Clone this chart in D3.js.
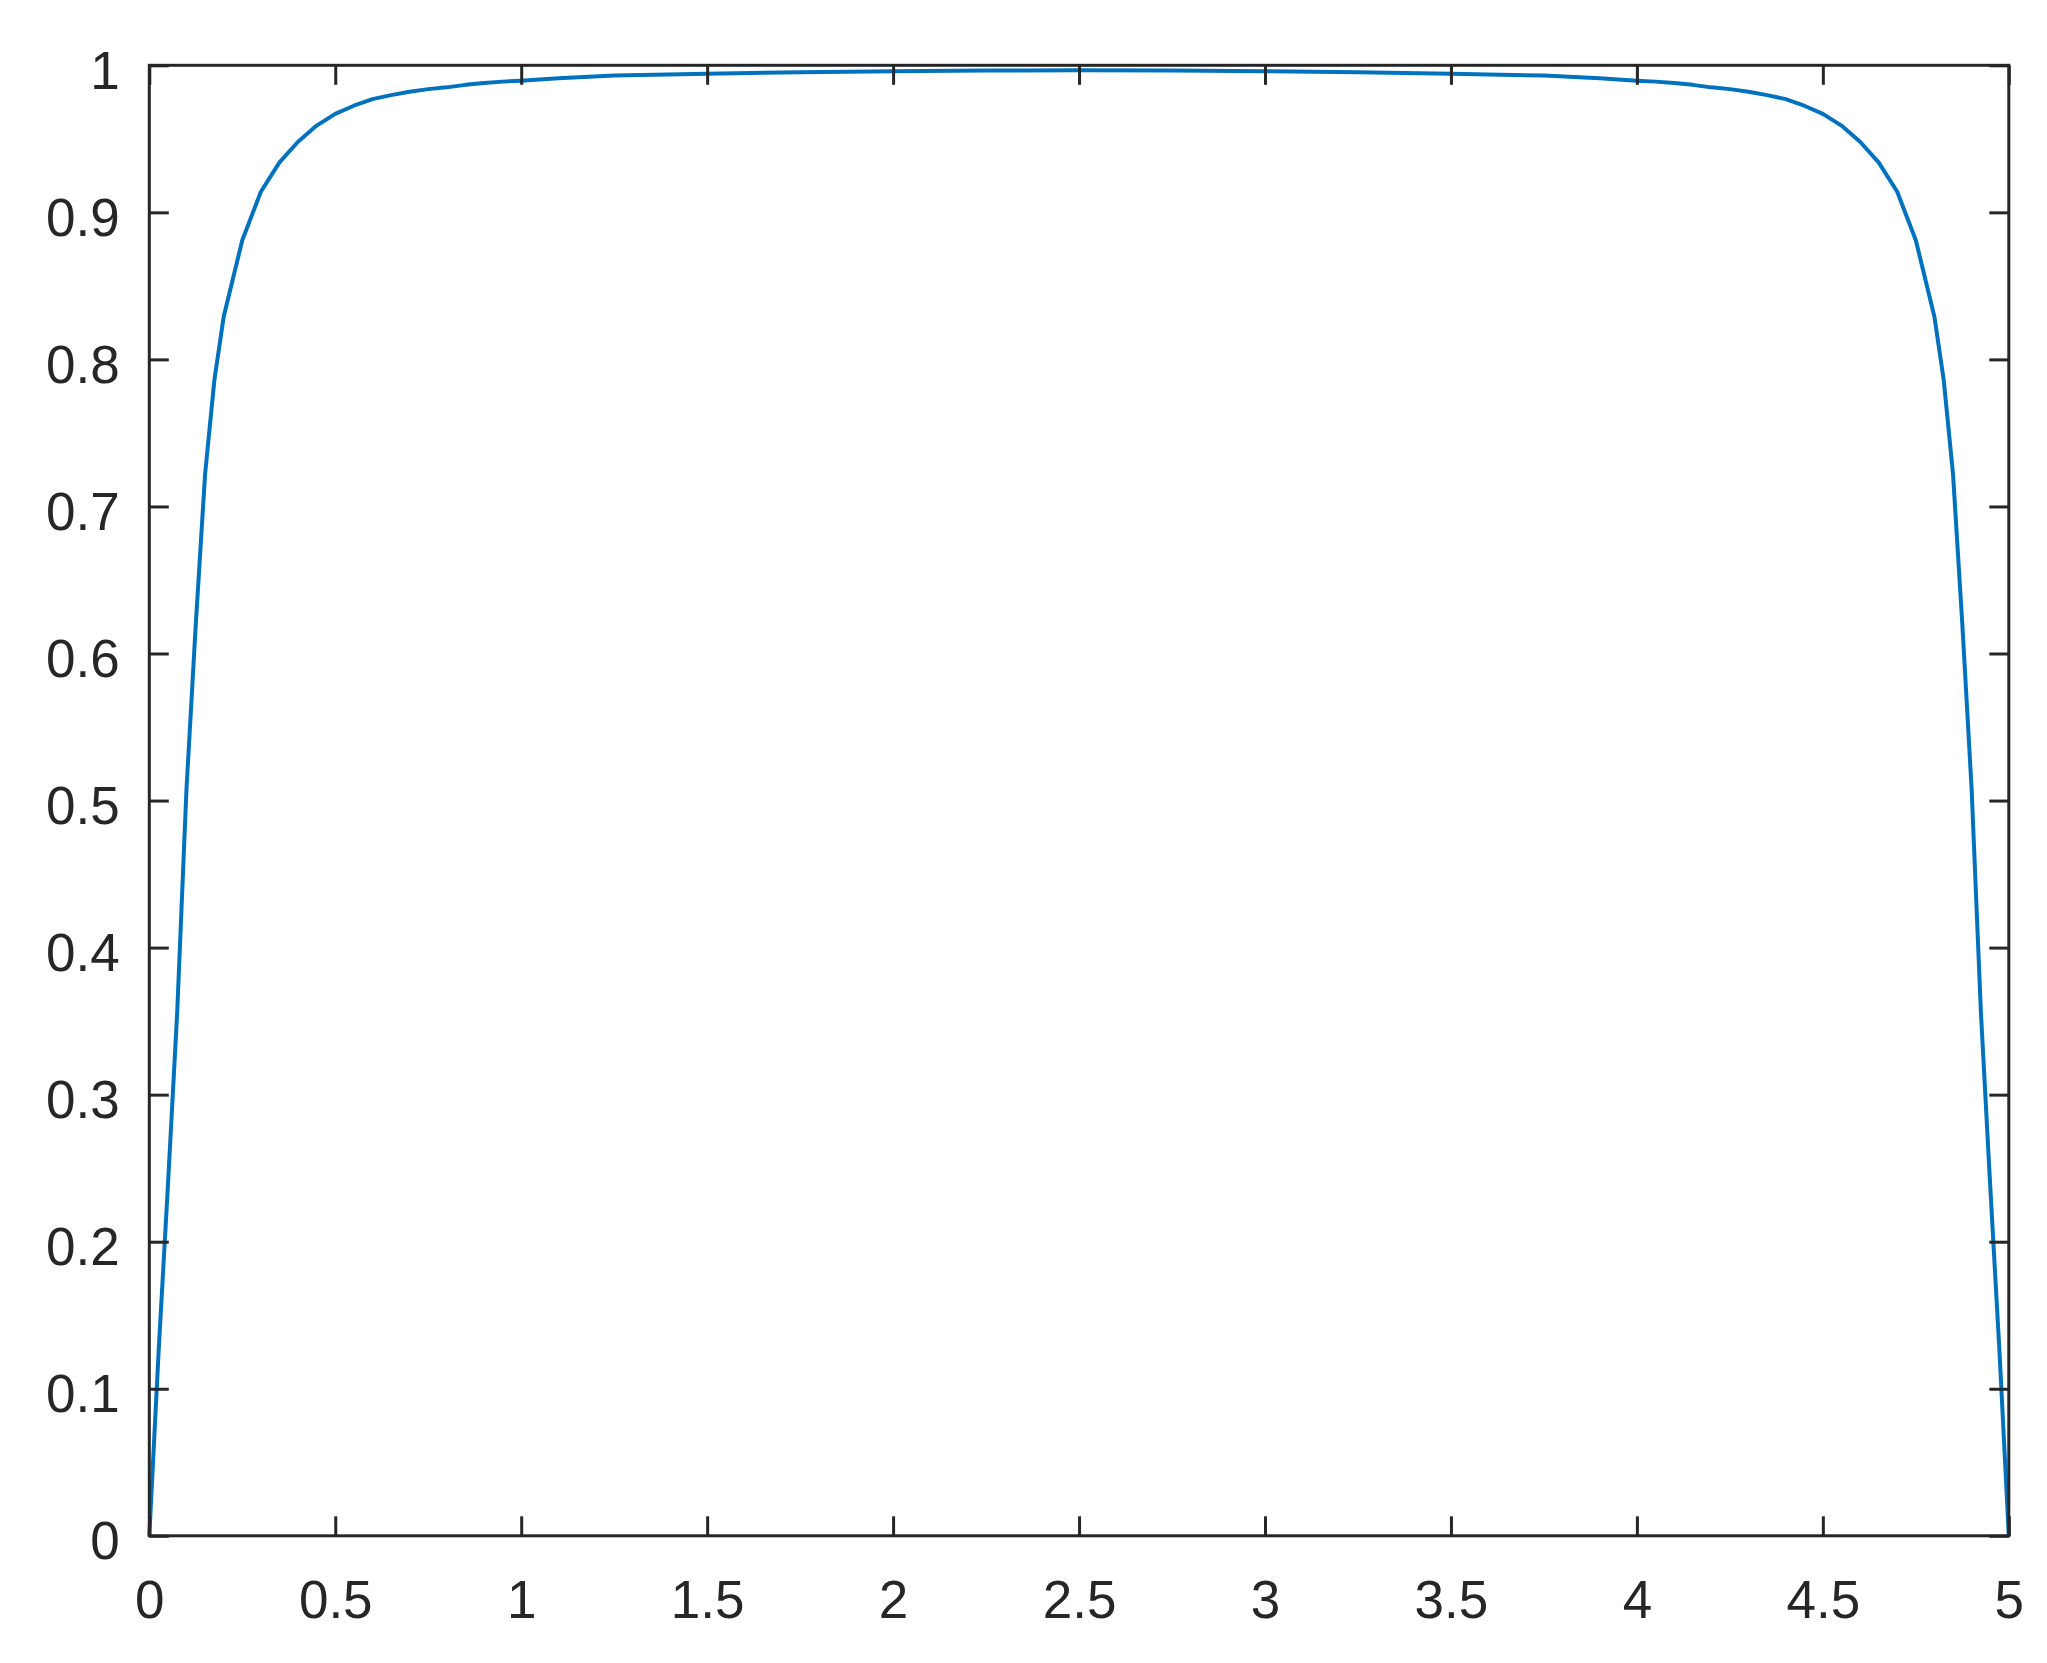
<!DOCTYPE html>
<html>
<head>
<meta charset="utf-8">
<script src="https://cdn.jsdelivr.net/npm/d3@7"></script>
<style>
  html, body { margin: 0; padding: 0; background: #ffffff; }
  svg { display: block; }
</style>
</head>
<body>
<svg id="chart" width="2047" height="1663"></svg>
<script>
// Data
const xValues = [0, 0.025, 0.05, 0.075, 0.1, 0.125, 0.15, 0.175, 0.2, 0.25, 0.3, 0.35, 0.4, 0.45, 0.5,
  0.55, 0.6, 0.65, 0.7, 0.75, 0.8, 0.85, 0.9, 0.95, 1.0, 1.1, 1.25, 1.5, 1.75, 2.0, 2.25, 2.5, 2.75, 3.0, 3.25, 3.5, 3.75, 3.9,
  4.0, 4.05, 4.1, 4.15, 4.2, 4.25, 4.3, 4.35, 4.4, 4.45, 4.5, 4.55, 4.6, 4.65, 4.7, 4.75, 4.8, 4.825, 4.85, 4.875, 4.9, 4.925, 4.95, 4.975, 5];
const yValues = [0, 0.125, 0.238, 0.356, 0.508, 0.62, 0.722, 0.786, 0.829, 0.881, 0.914, 0.934, 0.948, 0.959, 0.967,
  0.9725, 0.977, 0.9797, 0.982, 0.9838, 0.985, 0.9867, 0.988, 0.9889, 0.9895, 0.9912, 0.993, 0.9942, 0.9953, 0.9960, 0.9965, 0.9966, 0.9964, 0.9960, 0.9953, 0.9942, 0.993, 0.9912,
  0.9895, 0.9889, 0.988, 0.9867, 0.985, 0.9838, 0.982, 0.9797, 0.977, 0.9725, 0.967, 0.959, 0.948, 0.934, 0.914, 0.881, 0.829, 0.786, 0.722, 0.62, 0.508, 0.356, 0.238, 0.125, 0];
const xTicks = [0, 0.5, 1, 1.5, 2, 2.5, 3, 3.5, 4, 4.5, 5];
const yTicks = [0, 0.1, 0.2, 0.3, 0.4, 0.5, 0.6, 0.7, 0.8, 0.9, 1];

(function () {
  const points = xValues.map((x, i) => ({ x, y: yValues[i] }));

  const svg = d3.select("#chart");
  const pLeft = 149.3, pRight = 2008.8, pTop = 65.3, pBottom = 1535.8;
  const axisColor = "#262626";
  const fontSize = 53;
  const tickLen = 19.5;

  const x = d3.scaleLinear().domain([0, 5]).range([pLeft, pRight]);
  const y = d3.scaleLinear().domain([0, 1]).range([pBottom, pTop]);
  const fmt = d3.format("~g");

  // Curve
  const line = d3.line().x(d => x(d.x)).y(d => y(d.y)).curve(d3.curveLinear);
  svg.append("path")
    .datum(points)
    .attr("d", line)
    .attr("fill", "none")
    .attr("stroke", "#0072BD")
    .attr("stroke-width", 4)
    .attr("stroke-linejoin", "round");

  function styleAxis(g) {
    g.select(".domain").remove();
    g.selectAll(".tick line").attr("stroke", axisColor).attr("stroke-width", 3);
    g.selectAll(".tick text")
      .attr("fill", axisColor)
      .style("font-family", "'Liberation Sans', Arial, Helvetica, sans-serif")
      .style("font-size", fontSize + "px");
  }

  // Bottom axis
  const gx = svg.append("g").attr("transform", `translate(0,${pBottom})`)
    .call(d3.axisBottom(x).tickValues(xTicks).tickFormat(fmt).tickSizeInner(-tickLen).tickSizeOuter(0));
  styleAxis(gx);
  gx.selectAll(".tick text").attr("y", 82).attr("dy", null);

  // Top axis (ticks only)
  const gt = svg.append("g").attr("transform", `translate(0,${pTop})`)
    .call(d3.axisTop(x).tickValues(xTicks).tickFormat("").tickSizeInner(-tickLen).tickSizeOuter(0));
  styleAxis(gt);

  // Left axis
  const gy = svg.append("g").attr("transform", `translate(${pLeft},0)`)
    .call(d3.axisLeft(y).tickValues(yTicks).tickFormat(fmt).tickSizeInner(-tickLen).tickSizeOuter(0));
  styleAxis(gy);
  gy.selectAll(".tick text").attr("x", -29.5).attr("y", 23).attr("dy", null).attr("text-anchor", "end");

  // Right axis (ticks only)
  const gr = svg.append("g").attr("transform", `translate(${pRight},0)`)
    .call(d3.axisRight(y).tickValues(yTicks).tickFormat("").tickSizeInner(-tickLen).tickSizeOuter(0));
  styleAxis(gr);

  // Box
  svg.append("rect")
    .attr("x", pLeft).attr("y", pTop)
    .attr("width", pRight - pLeft).attr("height", pBottom - pTop)
    .attr("fill", "none")
    .attr("stroke", axisColor)
    .attr("stroke-width", 3);
})();
</script>
</body>
</html>
